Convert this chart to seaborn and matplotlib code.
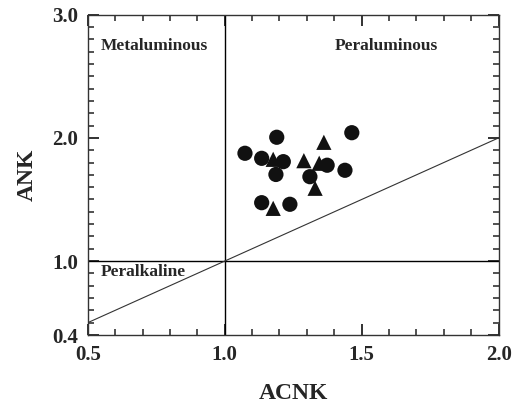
import numpy as np
import pandas as pd
import seaborn as sns
import matplotlib.pyplot as plt
from matplotlib.ticker import MultipleLocator, FixedLocator

# circles
circle_acnk = [1.074, 1.135, 1.190, 1.214, 1.187, 1.311, 1.374, 1.439, 1.464, 1.135, 1.238]
circle_ank = [1.875, 1.834, 2.005, 1.807, 1.703, 1.685, 1.778, 1.737, 2.042, 1.474, 1.461]
# triangles
tri_acnk = [1.177, 1.289, 1.362, 1.345, 1.330, 1.177]
tri_ank = [1.826, 1.815, 1.964, 1.794, 1.591, 1.428]

x_ticks = [0.5, 1.0, 1.5, 2.0]
y_ticks = [0.4, 1.0, 2.0, 3.0]
fields = ['Metaluminous', 'Peraluminous', 'Peralkaline']

df = pd.DataFrame({
    'ACNK': circle_acnk + tri_acnk,
    'ANK': circle_ank + tri_ank,
    'group': ['circle'] * len(circle_acnk) + ['triangle'] * len(tri_acnk),
})

sns.set_style('ticks')
plt.rcParams['font.family'] = ['Liberation Serif', 'DejaVu Serif']
plt.rcParams['font.weight'] = 'bold'

fig = plt.figure(figsize=(5.13, 4.05), dpi=100)
ax = fig.add_axes([0.171, 0.1728, 0.801, 0.791])

# field boundaries
ax.axvline(1.0, color='black', lw=1.0, zorder=1)
ax.axhline(1.0, color='black', lw=1.0, zorder=1)
ax.plot([0.5, 2.0], [0.5, 2.0], color='#333333', lw=0.8, zorder=1)

sns.scatterplot(data=df, x='ACNK', y='ANK', style='group',
                markers={'circle': 'o', 'triangle': '^'},
                color='#111111', s=120, linewidth=0, legend=False, ax=ax, zorder=3)

ax.set_xlim(0.5, 2.0)
ax.set_ylim(0.4, 3.0)
ax.xaxis.set_major_locator(FixedLocator(x_ticks))
ax.yaxis.set_major_locator(FixedLocator(y_ticks))
ax.xaxis.set_minor_locator(MultipleLocator(0.1))
ax.yaxis.set_minor_locator(MultipleLocator(0.1))
ax.set_xticklabels([f'{v:.1f}' for v in x_ticks])
ax.set_yticklabels([f'{v:.1f}' for v in y_ticks])
ax.tick_params(which='both', direction='in', top=True, right=True,
               labelsize=15, pad=7, color='#222222')
ax.tick_params(which='major', length=8, width=1.3)
ax.tick_params(which='minor', length=4, width=1.1)
for sp in ax.spines.values():
    sp.set_color('#333333')
    sp.set_linewidth(1.0)

ax.set_xlabel('ACNK', fontsize=17, fontweight='bold', labelpad=13)
ax.set_ylabel('ANK', fontsize=17, fontweight='bold', labelpad=10)

ax.text(0.548, 2.745, fields[0], fontsize=12.5, fontweight='bold', va='center')
ax.text(1.403, 2.745, fields[1], fontsize=12.5, fontweight='bold', va='center')
ax.text(0.548, 0.91, fields[2], fontsize=12.5, fontweight='bold', va='center')

fig.savefig('out.png', dpi=100)
